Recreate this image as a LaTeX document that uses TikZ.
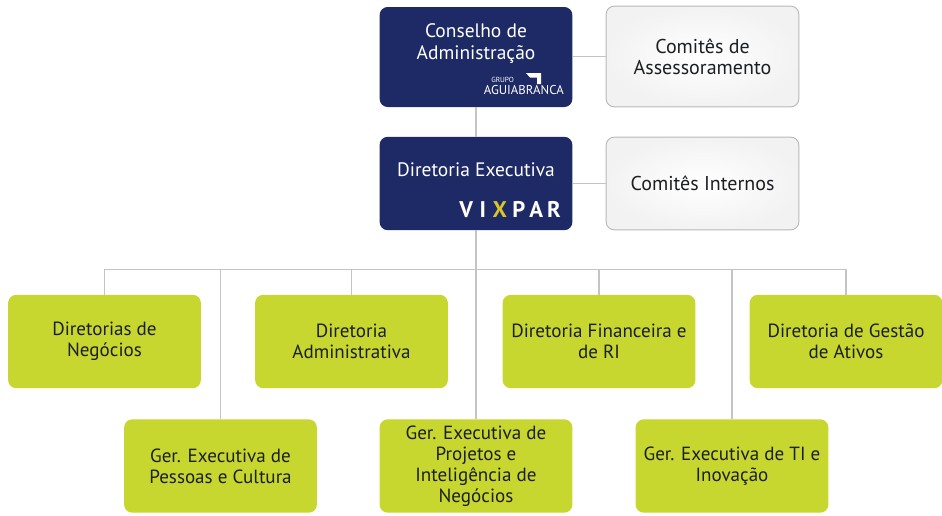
\documentclass[tikz,border=0pt]{standalone}
\usepackage{fontspec}
\setmainfont{PT Sans}
\definecolor{navy}{HTML}{1E2A66}
\definecolor{lime}{HTML}{C8D630}
\definecolor{linegray}{HTML}{C2C4C8}
\definecolor{ink}{HTML}{1C1F22}
\definecolor{vixyellow}{HTML}{D8C52A}
\tikzset{
  x=0.75pt,y=-0.75pt,
  basebox/.style={rounded corners=6pt,minimum width=144.5pt,align=center,inner sep=0pt,font=\fontsize{14.3}{15.8}\selectfont},
  navybox/.style={basebox,fill=navy},
  navytext/.style={align=center,inner sep=0pt,text=white,font=\fontsize{14.6}{16.2}\selectfont},
  greybox/.style={basebox,draw=black!28,line width=0.7pt,inner color=white,outer color=black!5,text=ink,font=\fontsize{15}{15.6}\selectfont},
  limebox/.style={basebox,fill=lime,text=ink,minimum height=70pt},
  link/.style={draw=linegray,line width=0.9pt},
  logotext/.style={inner sep=0pt,text=white}
}
\begin{document}
\begin{tikzpicture}
\useasboundingbox (0,0) rectangle (942,515);
% top
\node[navybox,minimum height=75pt] (ca) at (476,57) {};
\node[navytext] (catext) at (476,43.5) {Conselho de\\Administração};
\node[greybox,minimum height=75.5pt] (coa) at (702.5,56.5) {Comitês de\\Assessoramento};
\node[navybox,minimum height=70pt] (de) at (476,183.5) {};
\node[navytext] (detext) at (476,170) {Diretoria Executiva};
\node[greybox,minimum height=69.5pt] (ci) at (702.5,183.5) {Comitês Internos};
% logos
\node[logotext,font=\fontsize{5.5}{5.5}\selectfont,anchor=west] (grupo) at (491,80) {GRUPO};
\node[logotext,font=\fontsize{9.6}{10}\selectfont,anchor=east] (aguia) at (564,90) {AGUIABRANCA};
\fill[white] (526,73) -- (541,73) -- (541,84) -- (537,84) -- (537,77.5) -- (530,77.5) -- cycle;
\node[logotext,font=\fontsize{17}{17}\bfseries\selectfont,anchor=east] (vix) at (561,210) {V\hspace{5pt}I\hspace{5pt}\textcolor{vixyellow}{X}\hspace{4pt}P\hspace{3pt}A\hspace{3pt}R};
% row 1
\node[limebox] (d1) at (104.5,341.5) {Diretorias de\\Negócios};
\node[limebox] (d2) at (351.5,341.5) {Diretoria\\Administrativa};
\node[limebox] (d3) at (599,341.5) {Diretoria Financeira e\\de RI};
\node[limebox] (d4) at (846,341.5) {Diretoria de Gestão\\de Ativos};
% row 2
\node[limebox] (g1) at (220.5,466) {Ger. Executiva de\\Pessoas e Cultura};
\node[limebox] (g2) at (476,466) {Ger. Executiva de\\Projetos e\\Inteligência de\\Negócios};
\node[limebox] (g3) at (732,466) {Ger. Executiva de TI e\\Inovação};
% bus
\coordinate (bus) at (476,269.5);
% links
\draw[link] (ca) -- (de);
\draw[link] (ca.east |- coa.west) -- (coa.west);
\draw[link] (de) -- (ci);
\draw[link] (de.south) -- (g2.north);
\draw[link] (d1.north) |- (bus);
\draw[link] (d4.north) |- (bus);
\draw[link] (d2.north) -- (d2.north |- bus);
\draw[link] (d3.north) -- (d3.north |- bus);
\draw[link] (g1.north) -- (g1.north |- bus);
\draw[link] (g3.north) -- (g3.north |- bus);
\end{tikzpicture}
\end{document}
